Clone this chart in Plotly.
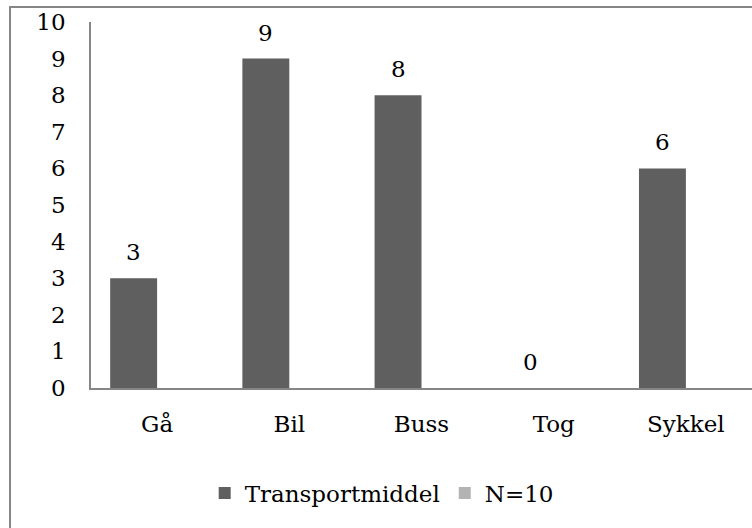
import plotly.graph_objects as go

categories = ["Gå", "Bil", "Buss", "Tog", "Sykkel"]
transport_values = [3, 9, 8, 0, 6]
n_values = [0, 0, 0, 0, 0]
series_names = ["Transportmiddel", "N=10"]
series_colors = ["#5f5f5f", "#b3b3b3"]
y_ticks = list(range(0, 11))

FONT = dict(family="DejaVu Serif", size=23, color="#000000")
AXIS_GRAY = "#868686"

fig = go.Figure()
for name, vals, col in zip(series_names, [transport_values, n_values], series_colors):
    fig.add_trace(go.Bar(
        x=categories, y=vals, name=name,
        marker=dict(color=col, line=dict(width=0)),
        hoverinfo="x+y",
    ))

# value labels above the first series
for cat, v in zip(categories, transport_values):
    fig.add_annotation(
        x=cat, y=v, xref="x", yref="y", text=str(v), showarrow=False,
        xshift=-23.5, yanchor="bottom", yshift=11, font=FONT,
    )

# outer chart frame
fig.add_shape(
    type="rect", xref="paper", yref="paper",
    x0=-0.1225, x1=1.1, y0=-0.6, y1=1.041,
    line=dict(color=AXIS_GRAY, width=2), fillcolor="rgba(0,0,0,0)", layer="below",
)

fig.update_layout(
    width=752, height=528,
    margin=dict(l=91, r=0, t=22, b=140),
    paper_bgcolor="white", plot_bgcolor="white",
    barmode="group", bargap=0.29, bargroupgap=0,
    font=FONT,
    showlegend=True,
    legend=dict(
        orientation="h", x=0.172, xanchor="left", y=-0.287, yanchor="middle",
        font=FONT, bgcolor="rgba(0,0,0,0)",
    ),
    xaxis=dict(
        showline=True, linecolor=AXIS_GRAY, linewidth=1.5,
        showgrid=False, ticks="", ticklabelstandoff=15, zeroline=False,
    ),
    yaxis=dict(
        range=[0, 10], tickvals=y_ticks, showline=True, linecolor=AXIS_GRAY,
        linewidth=1.5, showgrid=False, ticks="", zeroline=False,
        ticklabelstandoff=19,
    ),
)

fig.write_html("out.html")
